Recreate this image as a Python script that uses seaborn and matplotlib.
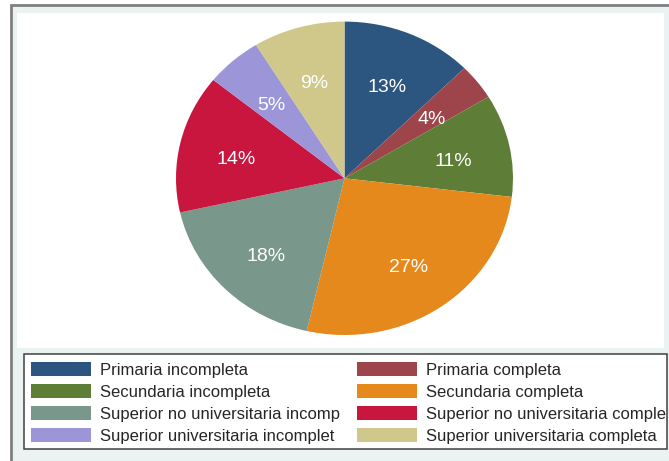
import matplotlib
matplotlib.use("Agg")
import matplotlib.pyplot as plt
from matplotlib.patches import Rectangle, Patch
import seaborn as sns

# Education level shares (percent of respondents)
categories = [
    "Primaria incompleta",
    "Primaria completa",
    "Secundaria incompleta",
    "Secundaria completa",
    "Superior no universitaria incomp",
    "Superior no universitaria comple",
    "Superior universitaria incomplet",
    "Superior universitaria completa",
]
shares = [12.6, 3.7, 10.6, 26.7, 17.9, 14.3, 5.4, 8.8]
colors = ["#2c5680", "#9e444b", "#5e7d37", "#e5891c",
          "#7a978c", "#c8163f", "#9c96d8", "#cfc88a"]

sns.set_theme(style="white")
plt.rcParams["font.family"] = ["Liberation Sans", "DejaVu Sans"]
palette = sns.color_palette(colors)

W, H = 669, 461
fig = plt.figure(figsize=(W / 100, H / 100), dpi=100)
fig.patch.set_facecolor("white")


def box(x0, y0, x1, y1, **kw):
    """Rectangle given in pixel coordinates measured from the top-left."""
    r = Rectangle((x0 / W, 1 - y1 / H), (x1 - x0) / W, (y1 - y0) / H,
                  transform=fig.transFigure, **kw)
    fig.patches.append(r)
    return r


# graph region, plot region and legend frame
box(11, 5, W + 20, H + 20, facecolor="#eaf2f2", edgecolor="#7f7f7f", lw=2, zorder=0)
box(17, 13, 664, 348, facecolor="white", edgecolor="none", zorder=1)
box(24, 353.5, 667, 448.5, facecolor="white", edgecolor="#404040", lw=1.1, zorder=1)

# pie (elliptical, as drawn on a non-square plot region)
cx, cy, rx, ry = 344.5, 178.3, 168.5, 156.7
ax = fig.add_axes([(cx - rx) / W, 1 - (cy + ry) / H, 2 * rx / W, 2 * ry / H])
ax.set_zorder(2)
wedges, texts, autotexts = ax.pie(
    shares, colors=palette, startangle=90, counterclock=False,
    autopct="%1.0f%%", pctdistance=0.66, radius=1.0,
    wedgeprops=dict(linewidth=0),
    textprops=dict(color="white", fontsize=14),
)
# percentage labels sit slightly below the wedge's label point
for t in autotexts:
    x, y = t.get_position()
    t.set_position((x, y - 0.032))
ax.set_aspect("auto")
ax.set_xlim(-1, 1)
ax.set_ylim(-1, 1)
ax.axis("off")

# legend, filled row by row in two columns
handles = [Patch(facecolor=c, edgecolor="none") for c in palette]
order = [0, 2, 4, 6, 1, 3, 5, 7]
leg = fig.legend(
    [handles[i] for i in order], [categories[i] for i in order],
    ncol=2, loc="upper left",
    bbox_to_anchor=(31 / W, 1 - 362 / H), borderaxespad=0, borderpad=0,
    frameon=False, fontsize=12, handlelength=3.6, handleheight=0.9,
    handletextpad=0.55, columnspacing=1.0, labelspacing=0.38,
)
leg.set_zorder(3)

fig.savefig("out.png", dpi=100)
